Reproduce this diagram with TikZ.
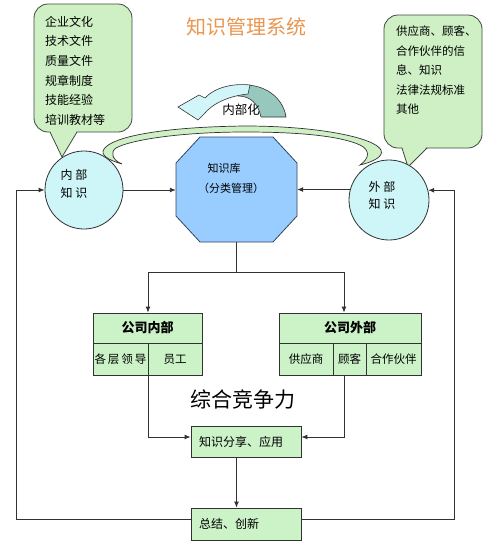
\documentclass[tikz,border=0pt]{standalone}
\usepackage{fontspec}
\setmainfont{Noto Sans CJK SC}
\usetikzlibrary{arrows.meta}
\definecolor{calloutfill}{RGB}{206,240,196}
\definecolor{calloutline}{RGB}{60,75,60}
\definecolor{circfill}{RGB}{206,246,248}
\definecolor{kbfill}{RGB}{153,204,255}
\definecolor{kbline}{RGB}{50,70,95}
\definecolor{boxfill}{RGB}{204,242,200}
\definecolor{lncol}{RGB}{50,50,50}
\definecolor{titlecol}{RGB}{233,150,80}
\definecolor{arrlight}{RGB}{210,245,250}
\definecolor{arrdark}{RGB}{150,200,190}
\tikzset{
  conn/.style={draw=lncol, line width=0.9pt},
  arr/.style={conn, -{Latex[length=6pt,width=5pt]}},
  callout/.style={draw=calloutline, fill=calloutfill, line width=0.8pt, rounded corners=14pt, inner sep=0pt},
  ctext/.style={anchor=north west, align=left, inner sep=0pt},
  circ/.style={circle, draw=lncol, fill=circfill, line width=0.8pt, inner sep=0pt},
  cell/.style={draw=lncol, fill=boxfill, line width=0.8pt, inner sep=0pt, font=\fontsize{11.5}{13}\selectfont},
  hdr/.style={cell, font=\fontsize{13}{15}\selectfont\bfseries},
  flowbox/.style={draw=lncol, fill=boxfill, line width=0.8pt, minimum width=110pt, text width=94pt, inner xsep=8pt, inner ysep=0pt, align=left, font=\fontsize{12}{14}\selectfont},
}
\begin{document}
\begin{tikzpicture}[x=1pt,y=-1pt]
\useasboundingbox (0,0) rectangle (494,544);
\fill[white] (0,0) rectangle (494,544);

% title
\node[font=\fontsize{20}{24}\selectfont, text=titlecol] (title) at (246,27) {知识管理系统};

% curved arrow "内部化"
\filldraw[fill=arrdark, draw=lncol, line width=0.6pt]
  (228,88) .. controls (258,78) and (283,95) .. (286,117) -- (261,117)
  .. controls (258,103) and (250,96) .. (238,96) -- cycle;
\filldraw[fill=arrlight, draw=lncol, line width=0.6pt]
  (199,95) -- (178,107) -- (198,120) -- (204,114)
  .. controls (212,104) and (228,96) .. (248,94) -- (250,85)
  .. controls (232,83) and (214,88) .. (205,98) -- cycle;
\node[font=\fontsize{12.5}{14}\selectfont, inner sep=1pt] (nbh) at (241,110) {内部化};

% big band arc
\filldraw[fill=calloutfill, draw=lncol, line width=0.7pt]
  (122,164) .. controls (108,160) and (100,155) .. (104,149)
  .. controls (112,137) and (160,127) .. (245,126)
  .. controls (320,126) and (375,138) .. (381,150)
  .. controls (384,157) and (372,162) .. (360,165)
  .. controls (370,158) and (370,150) .. (360,145)
  .. controls (340,136) and (300,132) .. (245,132)
  .. controls (180,132) and (130,140) .. (116,148)
  .. controls (110,152) and (112,160) .. (122,164) -- cycle;

% left callout
\node[callout, minimum width=98pt, minimum height=128pt] (cL) at (83,68) {};
\fill[calloutfill] (50,130.5) -- (62,157) -- (77,130.5) -- cycle;
\draw[calloutline, line width=0.8pt] (50,132) -- (62,157) -- (77,132);
\node[ctext, font=\fontsize{12}{19.6}\selectfont] (cLt) at (45,16)
  {企业文化\\技术文件\\质量文件\\规章制度\\技能经验\\培训教材等};

% right callout
\node[callout, minimum width=98pt, minimum height=133pt] (cR) at (433,81.5) {};
\fill[calloutfill] (402,146.5) -- (408,167) -- (427,146.5) -- cycle;
\draw[calloutline, line width=0.8pt] (402,148) -- (408,167) -- (427,148);
\node[ctext, font=\fontsize{11.5}{19.5}\selectfont] (cRt) at (396,26)
  {供应商、顾客、\\合作伙伴的信\\息、知识\\法律法规标准\\其他};

% circles
\node[circ, minimum size=78pt] (inK) at (84,190) {};
\node[align=center, font=\fontsize{12}{18}\selectfont, inner sep=0pt] (inKt) at (74,184) {内 部\\知 识};
\node[circ, minimum size=80pt] (exK) at (389,200) {};
\node[align=center, font=\fontsize{12}{17}\selectfont, inner sep=0pt] (exKt) at (382,195) {外 部\\知 识};

% octagon knowledge base
\node[minimum width=121pt, minimum height=105pt, inner sep=0pt] (kb) at (236.5,189.5) {};
\filldraw[fill=kbfill, draw=kbline, line width=0.8pt]
  (200,137) -- (273,137) -- (297,163) -- (297,216) -- (273,242)
  -- (200,242) -- (176,216) -- (176,163) -- cycle;
\node[font=\fontsize{11}{13}\selectfont, inner sep=0pt] (kbt1) at (224,168) {知识库};
\node[font=\fontsize{11}{13}\selectfont, inner sep=0pt] (kbt2) at (231,188) {（分类管理）};

% arrows into knowledge base
\draw[arr] (inK.east) -- (kb.west |- inK.east);
\draw[arr] (exK.165.5) -- (kb.east |- exK.165.5);

% tables
\node[hdr, minimum width=109pt, minimum height=30pt] (lh) at (147.5,328) {公司内部};
\node[cell, minimum width=55pt, minimum height=32pt] (lc1) at (120.5,359) {各\kern2pt 层\kern2pt 领\kern2pt 导};
\node[cell, minimum width=54pt, minimum height=32pt] (lc2) at (175,359) {员工};
\node[hdr, minimum width=142pt, minimum height=30pt] (rh) at (350,328) {公司外部};
\node[cell, minimum width=54pt, minimum height=32pt] (rc1) at (306,359) {供应商};
\node[cell, minimum width=33pt, minimum height=32pt] (rc2) at (349.5,359) {顾客};
\node[cell, minimum width=55pt, minimum height=32pt] (rc3) at (393.5,359) {合作伙伴};

% split from knowledge base
\coordinate (sL) at (148,272);
\coordinate (sR) at (344,272);
\draw[conn] (kb.south) -- (kb.south |- sL);
\draw[conn] (sL) -- (sR);
\draw[arr] (sL) -- (sL |- lh.north);
\draw[arr] (sR) -- (sR |- rh.north);

% competitiveness label
\node[font=\fontsize{21}{24}\selectfont] (zh) at (243,400) {综合竞争力};

% share / summary boxes
\node[flowbox, minimum height=31pt] (share) at (246,441.5) {知识分享、应用};
\node[flowbox, minimum height=32pt] (sum) at (246,524) {总结、创新};

\draw[arr] (lc1.south east) |- ([yshift=4.5pt]share.west);
\draw[arr] (rc2.south -| sR) |- ([yshift=4.5pt]share.east);
\draw[arr] (share.south -| kb.south) -- (sum.north -| kb.south);

% feedback loops
\coordinate (lc) at (16,519);
\coordinate (rc) at (454,519);
\draw[arr] ([yshift=5pt]sum.west) -- (lc) |- (inK.west);
\draw[arr] ([yshift=5pt]sum.east) -- (rc) |- (exK.14.5);
\end{tikzpicture}
\end{document}
